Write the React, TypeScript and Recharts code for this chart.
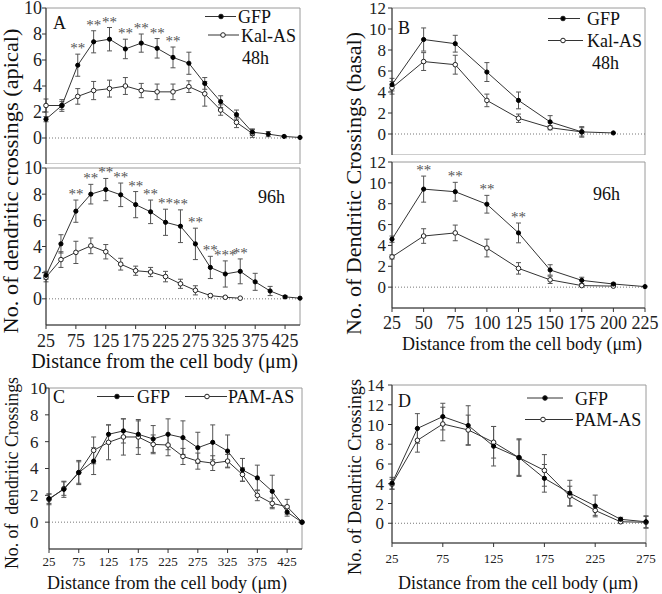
import React from "react";
import {
  LineChart,
  Line,
  XAxis,
  YAxis,
  ErrorBar,
  LabelList,
  ReferenceLine,
  ReferenceArea,
} from "recharts";

const FONT = "Liberation Serif, Tinos, DejaVu Serif, serif";

// ─── Data ─────────────────────────────────────────────────────────────────────

// A – apical, 48h
const distA48 = [25, 50, 75, 100, 125, 150, 175, 200, 225, 250, 275, 300, 325, 350, 375, 400, 425];
const gfpA48 = [1.45, 2.5, 5.6, 7.4, 7.6, 6.85, 7.3, 6.9, 6.2, 5.75, 4.2, 2.8, 1.8, 0.45, 0.3, 0.12, 0.04];
const gfpA48Err = [0.2, 0.3, 0.85, 0.85, 0.9, 0.75, 0.7, 0.75, 0.8, 0.85, 0.45, 0.45, 0.35, 0.25, 0.2, 0.05, 0];
const kalA48 = [2.5, 2.5, 3.2, 3.65, 3.8, 4.0, 3.65, 3.55, 3.55, 3.95, 3.4, 2.15, 1.2, 0.35];
const kalA48Err = [0.5, 0.45, 0.6, 0.7, 0.65, 0.65, 0.55, 0.6, 0.6, 0.45, 0.95, 0.4, 0.4, 0.3];
const starsA48 = ["", "", "**", "**", "**", "**", "**", "**", "**", "", "", "", "", "", "", "", ""];

// A – apical, 96h
const distA96 = [25, 50, 75, 100, 125, 150, 175, 200, 225, 250, 275, 300, 325, 350, 375, 400, 425, 450];
const gfpA96 = [1.8, 4.2, 6.7, 8.0, 8.35, 7.95, 7.2, 6.65, 5.85, 5.55, 4.2, 2.4, 1.9, 2.1, 1.3, 0.6, 0.15, 0.05];
const gfpA96Err = [0.3, 0.7, 0.85, 0.75, 0.85, 0.9, 1.0, 0.9, 1.0, 1.25, 1.2, 0.85, 1.0, 0.95, 0.65, 0.35, 0.1, 0];
const kalA96 = [1.65, 3.0, 3.55, 4.05, 3.6, 2.65, 2.15, 2.05, 1.7, 1.15, 0.65, 0.25, 0.12, 0.05];
const kalA96Err = [0.35, 0.6, 0.85, 0.6, 0.55, 0.45, 0.35, 0.35, 0.4, 0.35, 0.35, 0.1, 0.05, 0];
const starsA96 = ["", "", "**", "**", "**", "**", "**", "**", "**", "**", "**", "**", "***", "**", "", "", "", ""];

// B – basal, 48h
const distB48 = [25, 50, 75, 100, 125, 150, 175, 200];
const gfpB48 = [4.7, 9.0, 8.6, 5.9, 3.2, 1.15, 0.2, 0.1];
const gfpB48Err = [0.6, 1.1, 0.8, 0.9, 0.8, 0.6, 0.5, 0];
const kalB48 = [4.4, 6.9, 6.6, 3.2, 1.5, 0.6, 0.2];
const kalB48Err = [0.6, 0.85, 0.9, 0.6, 0.4, 0.2, 0.4];

// B – basal, 96h
const distB96 = [25, 50, 75, 100, 125, 150, 175, 200, 225];
const gfpB96 = [4.6, 9.4, 9.15, 7.95, 5.2, 1.65, 0.65, 0.3, 0.05];
const gfpB96Err = [0.3, 1.25, 0.9, 0.85, 0.95, 0.5, 0.3, 0.1, 0];
const kalB96 = [2.9, 4.9, 5.2, 3.75, 1.8, 0.7, 0.15, 0.1];
const kalB96Err = [0.2, 0.7, 0.75, 0.85, 0.55, 0.35, 0.1, 0.05];
const starsB96 = ["", "**", "**", "**", "**", "", "", "", ""];

// C – GFP vs PAM-AS
const distC = [25, 50, 75, 100, 125, 150, 175, 200, 225, 250, 275, 300, 325, 350, 375, 400, 425, 450];
const gfpC = [1.75, 2.45, 3.7, 4.55, 6.55, 6.8, 6.55, 6.2, 6.55, 6.3, 5.55, 5.95, 5.3, 3.9, 3.3, 2.3, 0.75, 0];
const gfpCErr = [0.35, 0.6, 0.8, 1.0, 0.7, 0.9, 1.0, 1.0, 1.15, 1.25, 1.15, 1.3, 1.2, 0.85, 0.95, 1.2, 0.3, 0];
const pamC = [1.7, 2.5, 3.7, 5.35, 5.95, 6.35, 6.35, 5.8, 5.75, 4.9, 4.55, 4.4, 4.55, 3.55, 2.0, 1.4, 1.15, 0];
const pamCErr = [0.4, 0.5, 0.9, 1.0, 1.3, 1.35, 1.3, 0.7, 0.8, 0.6, 0.6, 0.55, 0.5, 0.5, 0.4, 0.4, 0.55, 0];

// D – GFP vs PAM-AS
const distD = [25, 50, 75, 100, 125, 150, 175, 200, 225, 250, 275];
const gfpD = [4.05, 9.6, 10.8, 9.9, 7.8, 6.65, 4.55, 3.05, 1.75, 0.4, 0.15];
const gfpDErr = [0.6, 1.5, 1.35, 2.0, 2.0, 1.9, 1.4, 1.3, 1.1, 0.2, 0.6];
const pamD = [3.95, 8.4, 10.05, 9.45, 8.2, 6.65, 5.35, 2.75, 1.3, 0.15, 0.1];
const pamDErr = [0.5, 1.2, 1.7, 1.5, 1.6, 1.8, 1.6, 1.0, 0.5, 0.15, 0.6];

// ticks
const ticksX450 = [25, 75, 125, 175, 225, 275, 325, 375, 425];
const ticksX225 = [25, 50, 75, 100, 125, 150, 175, 200, 225];
const ticksX275 = [25, 75, 125, 175, 225, 275];
const ticksY10 = [0, 2, 4, 6, 8, 10];
const ticksY12 = [0, 2, 4, 6, 8, 10, 12];
const ticksY14 = [0, 2, 4, 6, 8, 10, 12, 14];

// ─── Helpers ──────────────────────────────────────────────────────────────────

interface Row {
  d: number;
  ctl?: number;
  ctlErr?: number;
  exp?: number;
  expErr?: number;
  star?: string;
}

function makeRows(
  dist: number[],
  ctl: number[],
  ctlErr: number[],
  exp: number[],
  expErr: number[],
  stars?: string[]
): Row[] {
  return dist.map((d, i) => ({
    d,
    ctl: ctl[i],
    ctlErr: ctlErr[i],
    exp: exp[i],
    expErr: expErr[i],
    star: stars && stars[i] ? stars[i] : undefined,
  }));
}

// asterisks above the GFP error bar
function StarLabel(props: any) {
  const { x, y, value } = props;
  if (!value) return null;
  return (
    <text
      x={x}
      y={y - 1}
      textAnchor="middle"
      fontSize={15}
      fill="#555"
      style={{ fontFamily: FONT }}
    >
      {value}
    </text>
  );
}

interface PanelProps {
  rows: Row[];
  left: number;
  top: number;
  width: number;
  height: number;
  marginTop: number;
  marginRight: number;
  yAxisW: number;
  xAxisH: number;
  xDomain: [number, number];
  xTicks?: number[];
  yDomain: [number, number];
  yTicks: number[];
  yFont: number;
  xFont: number;
  xGap: number;
  yGap: number;
  yTickStart?: boolean;
  stars?: boolean;
}

function Panel(p: PanelProps) {
  const tickStyle = { fill: "#222", style: { fontFamily: FONT } };
  return (
    <div style={{ position: "absolute", left: p.left, top: p.top }}>
      <LineChart
        width={p.width}
        height={p.height}
        data={p.rows}
        margin={{ top: p.marginTop, right: p.marginRight, bottom: 0, left: 0 }}
      >
        <ReferenceArea
          x1={p.xDomain[0]}
          x2={p.xDomain[1]}
          y1={p.yDomain[0]}
          y2={p.yDomain[1]}
          fill="none"
          stroke="#9a9a9a"
          strokeWidth={1}
        />
        <XAxis
          dataKey="d"
          type="number"
          domain={p.xDomain}
          ticks={p.xTicks}
          hide={!p.xTicks}
          height={p.xAxisH}
          interval={0}
          tickSize={4}
          tickMargin={p.xGap}
          tick={{ ...tickStyle, fontSize: p.xFont }}
          axisLine={{ stroke: "#333" }}
          tickLine={{ stroke: "#333" }}
        />
        <YAxis
          type="number"
          domain={p.yDomain}
          ticks={p.yTicks}
          width={p.yAxisW}
          interval={0}
          tickSize={4}
          tickMargin={p.yGap}
          axisLine={{ stroke: "#333" }}
          tickLine={{ stroke: "#333" }}
          tick={
            p.yTickStart
              ? (t: any) => (
                  <text
                    x={t.x - 15}
                    y={t.y}
                    dy="0.35em"
                    textAnchor="start"
                    fontSize={p.yFont}
                    fill="#222"
                    style={{ fontFamily: FONT }}
                  >
                    {t.payload.value}
                  </text>
                )
              : { ...tickStyle, fontSize: p.yFont }
          }
        />
        <ReferenceLine y={0} stroke="#777" strokeDasharray="1 2" />
        <Line
          dataKey="exp"
          stroke="#333"
          strokeWidth={1}
          dot={{ r: 2.3, fill: "#fff", stroke: "#222", strokeWidth: 1 }}
          activeDot={false}
          isAnimationActive={false}
        >
          <ErrorBar dataKey="expErr" width={2.5} stroke="#555" strokeWidth={1} direction="y" />
        </Line>
        <Line
          dataKey="ctl"
          stroke="#333"
          strokeWidth={1}
          dot={{ r: 2.1, fill: "#000", stroke: "#000", strokeWidth: 1 }}
          activeDot={false}
          isAnimationActive={false}
        >
          <ErrorBar dataKey="ctlErr" width={2.5} stroke="#555" strokeWidth={1} direction="y" />
        </Line>
        {p.stars && (
          <Line
            dataKey={(r: Row) => (r.ctl ?? 0) + (r.ctlErr ?? 0)}
            stroke="none"
            dot={false}
            activeDot={false}
            isAnimationActive={false}
          >
            <LabelList dataKey="star" content={StarLabel} />
          </Line>
        )}
      </LineChart>
    </div>
  );
}

function Key(props: {
  x1: number;
  x2: number;
  mx: number;
  y: number;
  tx: number;
  filled: boolean;
  label: string;
}) {
  return (
    <g>
      <line x1={props.x1} x2={props.x2} y1={props.y} y2={props.y} stroke="#333" strokeWidth={1} />
      <circle
        cx={props.mx}
        cy={props.y}
        r={2.3}
        fill={props.filled ? "#000" : "#fff"}
        stroke="#222"
        strokeWidth={1}
      />
      <text x={props.tx} y={props.y + 6.5} fontSize={18} fill="#111">
        {props.label}
      </text>
    </g>
  );
}

// ─── App ──────────────────────────────────────────────────────────────────────

export default function App() {
  const rowsA48 = makeRows(distA48, gfpA48, gfpA48Err, kalA48, kalA48Err, starsA48);
  const rowsA96 = makeRows(distA96, gfpA96, gfpA96Err, kalA96, kalA96Err, starsA96);
  const rowsB48 = makeRows(distB48, gfpB48, gfpB48Err, kalB48, kalB48Err);
  const rowsB96 = makeRows(distB96, gfpB96, gfpB96Err, kalB96, kalB96Err, starsB96);
  const rowsC = makeRows(distC, gfpC, gfpCErr, pamC, pamCErr);
  const rowsD = makeRows(distD, gfpD, gfpDErr, pamD, pamDErr);

  return (
    <div
      style={{
        position: "absolute",
        left: 0,
        top: 0,
        width: 662,
        height: 594,
        background: "#fff",
        fontFamily: FONT,
        overflow: "hidden",
      }}
    >
      {/* A 48h */}
      <Panel
        rows={rowsA48} left={0} top={0} width={306} height={164}
        marginTop={8} marginRight={6} yAxisW={46} xAxisH={0}
        xDomain={[25, 425]} yDomain={[-2, 10]} yTicks={ticksY10}
        yFont={18} xFont={18} xGap={5} yGap={0} stars
      />
      {/* A 96h */}
      <Panel
        rows={rowsA96} left={0} top={150} width={306} height={225}
        marginTop={18} marginRight={6} yAxisW={46} xAxisH={50}
        xDomain={[25, 450]} xTicks={ticksX450} yDomain={[-2, 10]} yTicks={ticksY10}
        yFont={18} xFont={18} xGap={5} yGap={0} stars
      />
      {/* B 48h */}
      <Panel
        rows={rowsB48} left={340} top={0} width={319} height={155}
        marginTop={8} marginRight={14} yAxisW={52} xAxisH={0}
        xDomain={[25, 225]} yDomain={[-2, 12]} yTicks={ticksY12}
        yFont={17} xFont={18} xGap={4} yGap={2}
      />
      {/* B 96h */}
      <Panel
        rows={rowsB96} left={340} top={144} width={319} height={214}
        marginTop={18} marginRight={14} yAxisW={52} xAxisH={50}
        xDomain={[25, 225]} xTicks={ticksX225} yDomain={[-2, 12]} yTicks={ticksY12}
        yFont={17} xFont={18} xGap={4} yGap={2} stars
      />
      {/* C */}
      <Panel
        rows={rowsC} left={0} top={370} width={308} height={209}
        marginTop={18} marginRight={6} yAxisW={49} xAxisH={30}
        xDomain={[25, 450]} xTicks={ticksX450} yDomain={[-2, 10]} yTicks={ticksY10}
        yFont={17} xFont={13} xGap={4} yGap={0} yTickStart
      />
      {/* D */}
      <Panel
        rows={rowsD} left={340} top={367} width={316} height={206}
        marginTop={18} marginRight={10} yAxisW={52} xAxisH={30}
        xDomain={[25, 275]} xTicks={ticksX275} yDomain={[-2, 14]} yTicks={ticksY14}
        yFont={17} xFont={13} xGap={7} yGap={4}
      />

      {/* Titles, legends, panel letters */}
      <svg
        width={662}
        height={594}
        style={{ position: "absolute", left: 0, top: 0, pointerEvents: "none", fontFamily: FONT }}
      >
        {/* axis titles */}
        <text x={164.5} y={368} fontSize={20} textAnchor="middle" fill="#111">
          Distance from the cell body (μm)
        </text>
        <text x={522} y={350} fontSize={18} textAnchor="middle" fill="#111">
          Distance from the cell body (μm)
        </text>
        <text x={167} y={588.5} fontSize={18} textAnchor="middle" fill="#111">
          Distance from the cell body (μm)
        </text>
        <text x={518} y={588.5} fontSize={18} textAnchor="middle" fill="#111">
          Distance from the cell body (μm)
        </text>

        <text
          x={17.5} y={181} fontSize={21} textAnchor="middle" fill="#111"
          textLength={305} lengthAdjust="spacingAndGlyphs"
          transform="rotate(-90 17.5 181)"
        >
          No. of dendritic crossings (apical)
        </text>
        <text
          x={361} y={183.5} fontSize={22} textAnchor="middle" fill="#111"
          textLength={303} lengthAdjust="spacingAndGlyphs"
          transform="rotate(-90 361 183.5)"
        >
          No. of Dendritic Crossings (basal)
        </text>
        <text
          x={18.3} y={473} fontSize={18} textAnchor="middle" fill="#111"
          textLength={192} lengthAdjust="spacingAndGlyphs"
          transform="rotate(-90 18.3 473)" style={{ whiteSpace: "pre" }}
        >
          No. of  dendritic Crossings
        </text>
        <text
          x={361} y={477} fontSize={19} textAnchor="middle" fill="#111"
          textLength={196} lengthAdjust="spacingAndGlyphs"
          transform="rotate(-90 361 477)"
        >
          No. of Dendritic Crossings
        </text>

        {/* panel letters */}
        <text x={53} y={28.5} fontSize={18} fill="#111">A</text>
        <text x={398} y={33.5} fontSize={18} fill="#111">B</text>
        <text x={53} y={403} fontSize={18} fill="#111">C</text>
        <text x={398} y={407} fontSize={18} fill="#111">D</text>

        {/* A legend */}
        <Key x1={205} x2={236} mx={221} y={16.5} tx={238} filled label="GFP" />
        <Key x1={208} x2={239} mx={223} y={35} tx={241} filled={false} label="Kal-AS" />
        <text x={242} y={63.5} fontSize={18} fill="#111">48h</text>
        <text x={258} y={202.5} fontSize={18} fill="#111">96h</text>

        {/* B legend */}
        <Key x1={548} x2={580} mx={563} y={18.5} tx={587} filled label="GFP" />
        <Key x1={548} x2={583} mx={563} y={40.5} tx={587} filled={false} label="Kal-AS" />
        <text x={592} y={68.5} fontSize={18} fill="#111">48h</text>
        <text x={593} y={200} fontSize={18} fill="#111">96h</text>

        {/* C legend */}
        <Key x1={97} x2={134} mx={117} y={396.5} tx={137} filled label="GFP" />
        <Key x1={185} x2={227} mx={207} y={396.5} tx={228} filled={false} label="PAM-AS" />

        {/* D legend */}
        <Key x1={527} x2={563} mx={545} y={398} tx={575} filled label="GFP" />
        <Key x1={525} x2={573} mx={543} y={419.5} tx={575} filled={false} label="PAM-AS" />
      </svg>
    </div>
  );
}
